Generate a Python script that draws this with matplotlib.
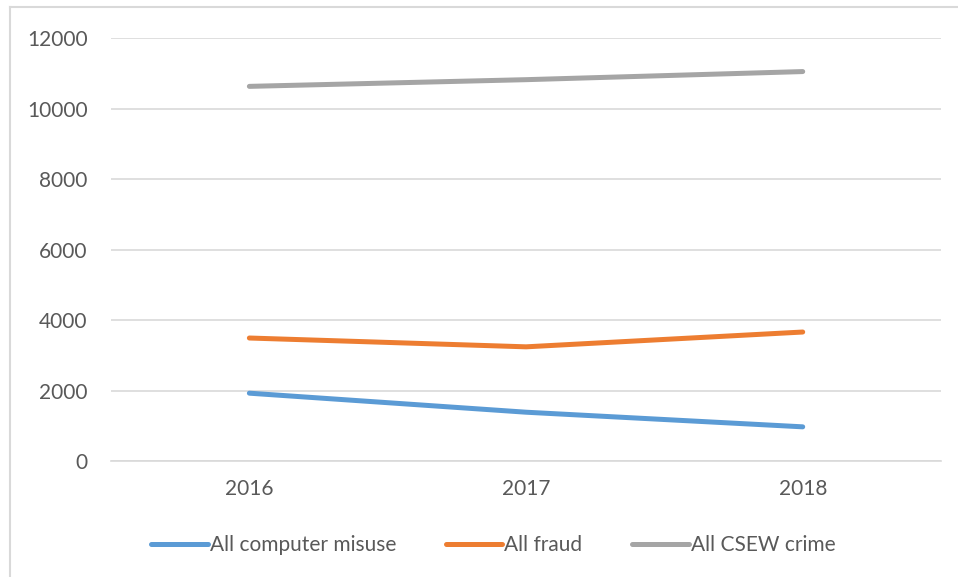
import matplotlib
matplotlib.use("Agg")
import matplotlib.pyplot as plt
from matplotlib.lines import Line2D

# Values
YEARS = ["2016", "2017", "2018"]
COMPUTER_MISUSE = [1925, 1385, 970]
FRAUD = [3490, 3240, 3660]
CSEW_CRIME = [10630, 10820, 11050]

SERIES = [
    ("All computer misuse", COMPUTER_MISUSE, "#5B9BD5"),
    ("All fraud", FRAUD, "#ED7D31"),
    ("All CSEW crime", CSEW_CRIME, "#A5A5A5"),
]

TEXT = "#595959"
GRID = "#D9D9D9"

plt.rcParams["font.family"] = ["Lato", "DejaVu Sans"]

fig = plt.figure(figsize=(9.58, 5.77), dpi=100)
ax = fig.add_axes([0.1159, 0.201, 0.8664, 0.733])

x = list(range(len(YEARS)))
for label, vals, color in SERIES:
    ax.plot(x, vals, color=color, linewidth=3.6, solid_capstyle="round",
            solid_joinstyle="round", label=label)

ax.set_xlim(-0.5, len(YEARS) - 0.5)
ax.set_ylim(0, 12000)
ax.set_yticks(range(0, 12001, 2000))
ax.set_xticks(x)
ax.set_xticklabels(YEARS)
ax.grid(axis="y", color=GRID, linewidth=1.2)
ax.set_axisbelow(True)
for side in ["top", "right", "left"]:
    ax.spines[side].set_visible(False)
ax.spines["bottom"].set_color(GRID)
ax.spines["bottom"].set_linewidth(1.2)
ax.tick_params(length=0, labelsize=15, colors=TEXT)
ax.tick_params(axis="y", pad=17)
ax.tick_params(axis="x", pad=13)

handles = [Line2D([], [], color=c, linewidth=3.6, solid_capstyle="round")
           for _, _, c in SERIES]
fig.legend(handles, [s[0] for s in SERIES], loc="center",
           bbox_to_anchor=(0.515, 0.055), ncol=3, frameon=False,
           fontsize=15, labelcolor=TEXT, handlelength=2.7,
           handletextpad=0.1, columnspacing=2.4)

# outer chart frame (only left and top visible in the reference)
fig.add_artist(Line2D([0.0104, 0.0104], [0.0, 0.988], color=GRID,
                      linewidth=1.5, transform=fig.transFigure))
fig.add_artist(Line2D([0.0104, 1.0], [0.988, 0.988], color=GRID,
                      linewidth=1.5, transform=fig.transFigure))

fig.savefig("out.png", dpi=100)
